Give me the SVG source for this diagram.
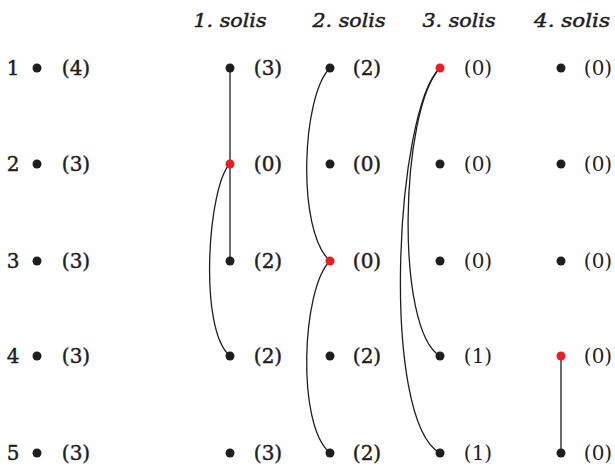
<svg xmlns="http://www.w3.org/2000/svg" width="615" height="466" viewBox="0 0 615 466">
<style>
.bg{fill:#fff}
.d{fill:#1e1e1e}
.r{fill:#ec1c24}
.c{fill:none;stroke:#1e1e1e;stroke-width:1.3}
.t{font-family:"DejaVu Serif","Liberation Serif",serif;font-size:20px;fill:#1e1e1e;stroke:#1e1e1e;stroke-width:0.45;text-anchor:middle}
.l{font-family:"DejaVu Serif","Liberation Serif",serif;font-size:20px;fill:#1e1e1e;text-anchor:middle}
.h{font-family:"DejaVu Serif","Liberation Serif",serif;font-size:19px;font-style:italic;fill:#1e1e1e;stroke:#1e1e1e;stroke-width:0.5;text-anchor:middle}
</style>
<rect class="bg" width="615" height="466"/>
<g id="headers">
<text class="h" x="230" y="27" textLength="73" lengthAdjust="spacingAndGlyphs">1. solis</text>
<text class="h" x="349" y="27" textLength="73" lengthAdjust="spacingAndGlyphs">2. solis</text>
<text class="h" x="459" y="27" textLength="73" lengthAdjust="spacingAndGlyphs">3. solis</text>
<text class="h" x="572" y="27" textLength="76" lengthAdjust="spacingAndGlyphs">4. solis</text>
</g>
<g id="connectors">
<path class="c" d="M230,68 L230,261"/>
<path class="c" d="M230,164 C208,185 198,330 230,356"/>
<path class="c" d="M330,68 C302,95 296,230 330,261"/>
<path class="c" d="M330,261 C302,288 296,425 330,453"/>
<path class="c" d="M440,68 C400,110 395,330 440,356"/>
<path class="c" d="M440,68 C395,110 380,420 440,453"/>
<path class="c" d="M561,356 L561,453"/>
</g>
<g id="col0">
<text class="t" x="13" y="75">1</text><circle class="d" cx="37" cy="68" r="4.5"/><text class="t" x="76" y="75">(4)</text>
<text class="t" x="13" y="171">2</text><circle class="d" cx="37" cy="164" r="4.5"/><text class="t" x="76" y="171">(3)</text>
<text class="t" x="13" y="268">3</text><circle class="d" cx="37" cy="261" r="4.5"/><text class="t" x="76" y="268">(3)</text>
<text class="t" x="13" y="363">4</text><circle class="d" cx="37" cy="356" r="4.5"/><text class="t" x="76" y="363">(3)</text>
<text class="t" x="13" y="460">5</text><circle class="d" cx="37" cy="453" r="4.5"/><text class="t" x="76" y="460">(3)</text>
</g>
<g id="col1">
<circle class="d" cx="230" cy="68" r="4.5"/><text class="t" x="268" y="75">(3)</text>
<circle class="r" cx="230" cy="164" r="4.5"/><text class="t" x="268" y="171">(0)</text>
<circle class="d" cx="230" cy="261" r="4.5"/><text class="t" x="268" y="268">(2)</text>
<circle class="d" cx="230" cy="356" r="4.5"/><text class="t" x="268" y="363">(2)</text>
<circle class="d" cx="230" cy="453" r="4.5"/><text class="t" x="268" y="460">(3)</text>
</g>
<g id="col2">
<circle class="d" cx="330" cy="68" r="4.5"/><text class="t" x="367" y="75">(2)</text>
<circle class="d" cx="330" cy="164" r="4.5"/><text class="t" x="367" y="171">(0)</text>
<circle class="r" cx="330" cy="261" r="4.5"/><text class="t" x="367" y="268">(0)</text>
<circle class="d" cx="330" cy="356" r="4.5"/><text class="t" x="367" y="363">(2)</text>
<circle class="d" cx="330" cy="453" r="4.5"/><text class="t" x="367" y="460">(2)</text>
</g>
<g id="col3">
<circle class="r" cx="440" cy="68" r="4.5"/><text class="l" x="478" y="75">(0)</text>
<circle class="d" cx="440" cy="164" r="4.5"/><text class="l" x="478" y="171">(0)</text>
<circle class="d" cx="440" cy="261" r="4.5"/><text class="l" x="478" y="268">(0)</text>
<circle class="d" cx="440" cy="356" r="4.5"/><text class="l" x="478" y="363">(1)</text>
<circle class="d" cx="440" cy="453" r="4.5"/><text class="l" x="478" y="460">(1)</text>
</g>
<g id="col4">
<circle class="d" cx="561" cy="68" r="4.5"/><text class="l" x="598" y="75">(0)</text>
<circle class="d" cx="561" cy="164" r="4.5"/><text class="l" x="598" y="171">(0)</text>
<circle class="d" cx="561" cy="261" r="4.5"/><text class="l" x="598" y="268">(0)</text>
<circle class="r" cx="561" cy="356" r="4.5"/><text class="l" x="598" y="363">(0)</text>
<circle class="d" cx="561" cy="453" r="4.5"/><text class="l" x="598" y="460">(0)</text>
</g>
</svg>
